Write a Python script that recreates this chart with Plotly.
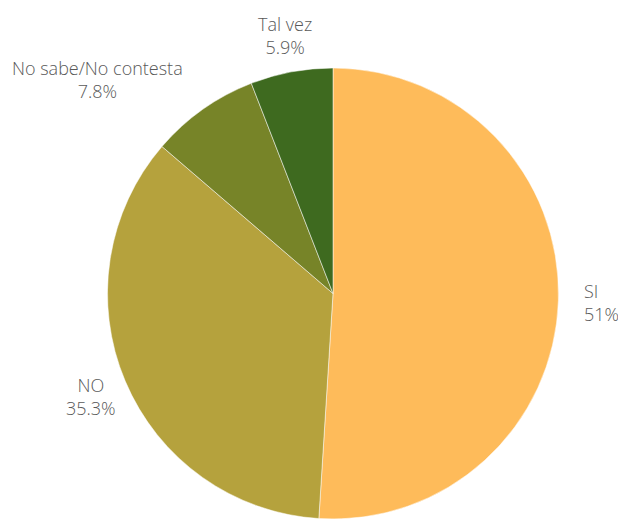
import math
import plotly.graph_objects as go

# Survey answers and their shares (%)
labels = ["SI", "NO", "No sabe/No contesta", "Tal vez"]
values = [51, 35.3, 7.8, 5.9]
colors = ["#FEBB5A", "#B5A23D", "#778428", "#3E6A1F"]

W, H = 618, 519

# Pie placement in pixels (centre and radius) -> paper domain
CX, CY, R = 333, 294, 226
dom_x = [(CX - R) / W, (CX + R) / W]
dom_y = [max(0.0, (H - CY - R) / H), (H - CY + R) / H]

fig = go.Figure(
    go.Pie(
        labels=labels,
        values=values,
        sort=False,
        direction="clockwise",
        rotation=0,
        marker=dict(colors=colors, line=dict(color="white", width=0.5)),
        textinfo="none",
        hoverinfo="label+value",
        domain=dict(x=dom_x, y=dom_y),
        showlegend=False,
    )
)

# Outside labels: centred on each slice's mid-angle, pushed sideways
# when the text block would run into the pie
FONT_SIZE = 18
label_font = dict(family="Open Sans", size=FONT_SIZE, color="#595959", weight=300)
label_dist = R + 37
clearance = 31
total = sum(values)
start = 0.0
for lab, val in zip(labels, values):
    mid = (start + val / 2) / total * 2 * math.pi  # clockwise from 12 o'clock
    start += val
    sx, cy = math.sin(mid), math.cos(mid)
    pct = f"{val:g}%"
    text = f"{lab}<br>{pct}"
    px = CX + label_dist * sx
    py = CY - label_dist * cy

    half_w = 0.245 * FONT_SIZE * max(len(lab), len(pct))
    half_h = 1.3 * FONT_SIZE
    # vertical distance from the pie centre to the nearest edge of the block
    dy = max(0.0, abs(py - CY) - half_h)
    if dy < R:
        chord = math.sqrt(R * R - dy * dy)
        if sx < 0 and px + half_w > CX - chord:
            px = CX - chord - clearance - half_w
        elif sx > 0 and px - half_w < CX + chord:
            px = CX + chord + clearance + half_w

    # right-hand labels are left-aligned and kept inside the page
    right_side = sx > 0.5
    left_edge = min(px - half_w, W - 2 * half_w - 10)
    fig.add_annotation(
        x=left_edge / W if right_side else px / W,
        y=(H - py) / H,
        xref="paper",
        yref="paper",
        text=text,
        showarrow=False,
        xanchor="left" if right_side else "center",
        yanchor="middle",
        align="left" if right_side else "center",
        font=label_font,
    )

fig.update_layout(
    width=W,
    height=H,
    margin=dict(l=0, r=0, t=0, b=0),
    paper_bgcolor="white",
    plot_bgcolor="white",
)

fig.write_html("out.html")
